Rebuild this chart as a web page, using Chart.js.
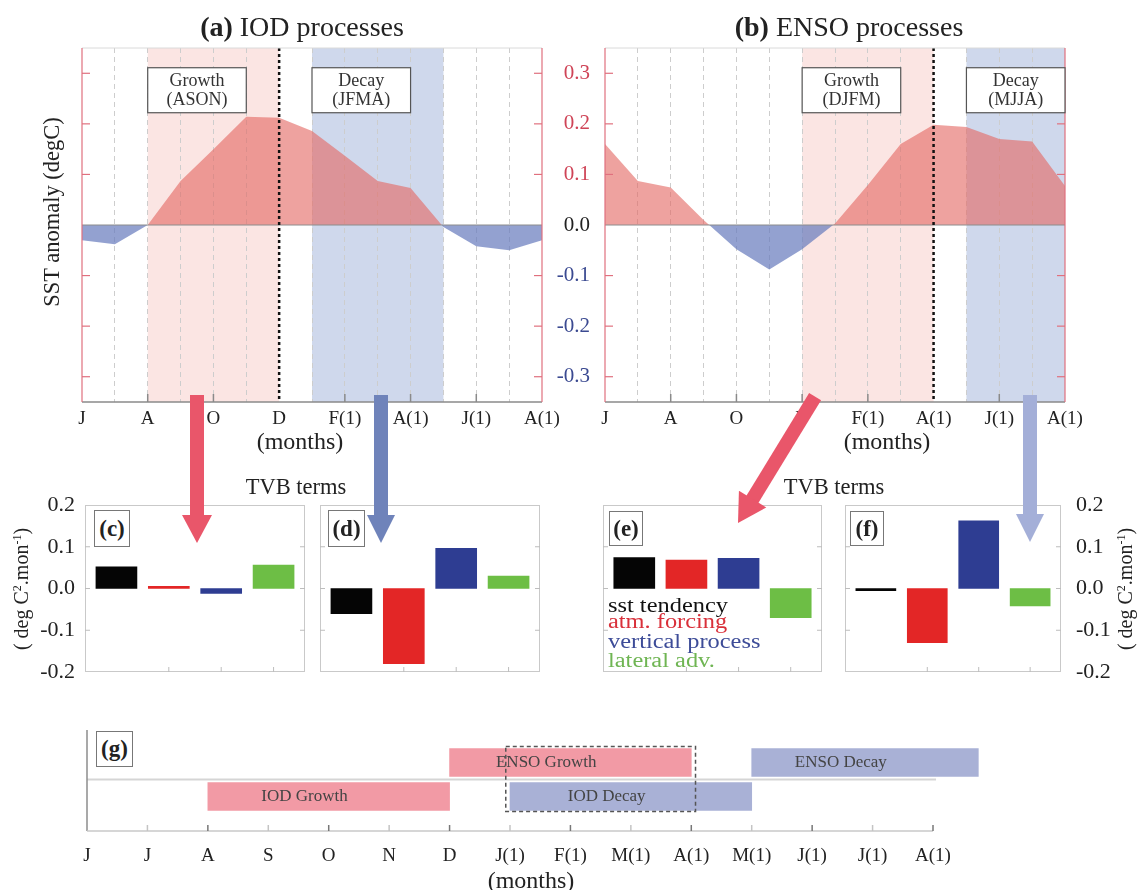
<!DOCTYPE html>
<html>
<head>
<meta charset="utf-8">
<title>IOD and ENSO processes</title>
<script src="https://cdn.jsdelivr.net/npm/chart.js"></script>
<style>
  body { margin: 0; background: #fff; }
  #fig { position: relative; width: 1138px; height: 890px; overflow: hidden; font-family: 'Liberation Serif', 'DejaVu Serif', serif; color: #222; }
  canvas, svg { position: absolute; }
  .t { position: absolute; transform: translate(-50%, -50%); white-space: nowrap; line-height: 1; }
  .rot { transform: translate(-50%, -50%) rotate(-90deg); }
  .tag { position: absolute; border: 1.5px solid #777; background: #fff; font-weight: bold; font-size: 23px; display: flex; align-items: center; justify-content: center; box-sizing: border-box; }
  .leg { position: absolute; left: 608px; font-size: 20px; line-height: 1; transform-origin: 0 50%; transform: translateY(-50%) scaleX(1.22); white-space: nowrap; }
  sup { font-size: 0.6em; }
</style>
</head>
<body>
<div id="fig">
  <canvas id="cA" width="580" height="420" style="left:0;top:40px"></canvas>
  <canvas id="cB" width="560" height="420" style="left:540px;top:40px"></canvas>
  <canvas id="cC" width="315" height="185" style="left:0;top:495px"></canvas>
  <canvas id="cD" width="240" height="185" style="left:310px;top:495px"></canvas>
  <canvas id="cE" width="240" height="185" style="left:593px;top:495px"></canvas>
  <canvas id="cF" width="303" height="185" style="left:835px;top:495px"></canvas>
  <canvas id="cG" width="960" height="170" style="left:40px;top:720px"></canvas>

  <svg width="1138" height="890" style="left:0;top:0">
    <g fill="#e9566a">
      <rect x="190" y="395" width="14" height="121"/>
      <polygon points="182,515 212,515 197,543"/>
    </g>
    <g fill="#6f83ba">
      <rect x="374" y="395" width="14" height="121"/>
      <polygon points="367,515 395,515 381,543"/>
    </g>
    <g fill="#e9566a" transform="translate(738,523) rotate(31.4)">
      <rect x="-7" y="-148" width="14" height="121"/>
      <polygon points="-16,-28 16,-28 0,0"/>
    </g>
    <g fill="#a4afd8">
      <rect x="1023" y="395" width="14" height="120"/>
      <polygon points="1016,514 1044,514 1030,542"/>
    </g>
  </svg>

  <div class="t" style="left:302px;top:27px;font-size:28px"><b>(a)</b> IOD processes</div>
  <div class="t" style="left:849px;top:27px;font-size:28px"><b>(b)</b> ENSO processes</div>
  <div class="t rot" style="left:52px;top:212px;font-size:22.5px">SST anomaly (degC)</div>
  <div class="t" style="left:300px;top:441px;font-size:24px">(months)</div>
  <div class="t" style="left:887px;top:441px;font-size:24px">(months)</div>

  <div class="t" style="left:296px;top:487px;font-size:22.5px">TVB terms</div>
  <div class="t" style="left:834px;top:487px;font-size:22.5px">TVB terms</div>
  <div class="t rot" style="left:21px;top:589px;font-size:20px">( deg C<sup>2</sup>.mon<sup>-1</sup>)</div>
  <div class="t rot" style="left:1125px;top:589px;font-size:20px">( deg C<sup>2</sup>.mon<sup>-1</sup>)</div>
  <div class="tag" style="left:94px;top:510px;width:36px;height:37px">(c)</div>
  <div class="tag" style="left:328px;top:510px;width:37px;height:37px">(d)</div>
  <div class="tag" style="left:609px;top:511px;width:34px;height:35px">(e)</div>
  <div class="tag" style="left:850px;top:511px;width:34px;height:35px">(f)</div>
  <div id="legend"></div>

  <div class="tag" style="left:96px;top:731px;width:37px;height:36px">(g)</div>
  <div class="t" style="left:531px;top:880px;font-size:24px">(months)</div>
</div>

<script>
Chart.defaults.font.family = "'Liberation Serif', 'DejaVu Serif', serif";
Chart.defaults.color = '#222';
Chart.defaults.animation = false;
Chart.defaults.plugins.legend.display = false;
Chart.defaults.plugins.tooltip.enabled = false;

// --- Data ---
const months = ['J', 'J', 'A', 'S', 'O', 'N', 'D', 'J(1)', 'F(1)', 'M(1)', 'A(1)', 'M(1)', 'J(1)', 'J(1)', 'A(1)'];
const sstTickLabels = ['J', '', 'A', '', 'O', '', 'D', '', 'F(1)', '', 'A(1)', '', 'J(1)', '', 'A(1)'];
const sstTicks = [-0.3, -0.2, -0.1, 0, 0.1, 0.2, 0.3];
const iodSST = [-0.03, -0.038, 0.0, 0.087, 0.15, 0.214, 0.212, 0.186, 0.137, 0.087, 0.073, -0.004, -0.042, -0.05, -0.03];
const ensoSST = [0.16, 0.087, 0.074, 0.01, -0.048, -0.088, -0.048, 0.003, 0.079, 0.16, 0.198, 0.194, 0.17, 0.165, 0.077];

// growth / decay windows as month indexes into `months`
const iodPhases = {
    growth: [2, 6], decay: [7, 11], peak: 6,
    boxes: [{ span: [2, 5], text: ['Growth', '(ASON)'] }, { span: [7, 10], text: ['Decay', '(JFMA)'] }]
};
const ensoPhases = {
    growth: [6, 10], decay: [11, 14], peak: 10,
    boxes: [{ span: [6, 9], text: ['Growth', '(DJFM)'] }, { span: [11, 14], text: ['Decay', '(MJJA)'] }]
};

const tvbTerms = ['sst tendency', 'atm. forcing', 'vertical process', 'lateral adv.'];
const tvbColors = ['#050505', '#e32626', '#2e3d92', '#6dbe45'];
const tvbTicks = [-0.2, -0.1, 0, 0.1, 0.2];
const iodGrowthTVB = [0.052, 0.005, -0.012, 0.056];
const iodDecayTVB = [-0.06, -0.18, 0.096, 0.03];
const ensoGrowthTVB = [0.074, 0.068, 0.072, -0.07];
const ensoDecayTVB = [-0.005, -0.13, 0.162, -0.042];

const timelineRows = ['ENSO', 'IOD'];
const growthSpans = [[6, 10], [2, 6]];
const decaySpans = [[11, 14.75], [7, 11]];

// --- Helpers ---
const line = (ctx, x1, y1, x2, y2, color, w) => {
    ctx.strokeStyle = color;
    ctx.lineWidth = w;
    ctx.beginPath();
    ctx.moveTo(x1, y1);
    ctx.lineTo(x2, y2);
    ctx.stroke();
};

// fix an axis box to an exact size, with no extra label padding
const fixSize = (w, h) => s => {
    if (w !== null) s.width = w;
    if (h !== null) s.height = h;
    s.paddingTop = s.paddingBottom = s.paddingLeft = s.paddingRight = 0;
};

// legend inside panel (e)
const legendTops = [605, 621, 641, 660];
const legendColors = ['#111', '#d9303a', '#3d4c98', '#6fb553'];
tvbTerms.forEach((term, i) => {
    const d = document.createElement('div');
    d.className = 'leg';
    d.style.top = legendTops[i] + 'px';
    d.style.color = legendColors[i];
    d.textContent = term;
    document.getElementById('legend').appendChild(d);
});

// --- SST panels (a) and (b) ---
function sstDecor(ph) {
    return {
        id: 'sstDecor',
        beforeDraw(chart) {
            const { ctx, chartArea: a, scales: { x } } = chart;
            ctx.save();
            ctx.fillStyle = '#fbe5e3';
            const g0 = x.getPixelForValue(ph.growth[0]), g1 = x.getPixelForValue(ph.growth[1]);
            ctx.fillRect(g0, a.top, g1 - g0, a.height);
            ctx.fillStyle = '#cfd8ec';
            const d0 = x.getPixelForValue(ph.decay[0]), d1 = x.getPixelForValue(ph.decay[1]);
            ctx.fillRect(d0, a.top, d1 - d0, a.height);
            ctx.restore();
        },
        afterDatasetsDraw(chart) {
            const { ctx, chartArea: a, scales: { x, y } } = chart;
            ctx.save();
            const y0 = y.getPixelForValue(0);
            line(ctx, a.left, y0, a.right, y0, '#8c8c8c', 1);

            // peak month
            ctx.setLineDash([3, 3]);
            const px = x.getPixelForValue(ph.peak);
            line(ctx, px, a.top, px, a.bottom, '#111', 2.5);
            ctx.setLineDash([]);

            // frame
            line(ctx, a.left, a.top, a.right, a.top, '#dadada', 1);
            line(ctx, a.left, a.bottom, a.right, a.bottom, '#8a8a8a', 1.5);
            line(ctx, a.left, a.top, a.left, a.bottom, '#e0707e', 1.2);
            line(ctx, a.right, a.top, a.right, a.bottom, '#e0707e', 1.2);
            sstTicks.forEach(v => {
                if (v === 0) return;
                const py = y.getPixelForValue(v);
                line(ctx, a.left, py, a.left + 8, py, '#e0707e', 1.2);
                line(ctx, a.right - 8, py, a.right, py, '#e0707e', 1.2);
            });
            sstTickLabels.forEach((l, i) => {
                if (!l || i === 0 || i === months.length - 1 || i === ph.peak) return;
                const tx = x.getPixelForValue(i);
                line(ctx, tx, a.bottom, tx, a.bottom - 8, '#8a8a8a', 1.5);
            });

            // phase boxes
            ph.boxes.forEach(b => {
                const bx0 = x.getPixelForValue(b.span[0]), bx1 = x.getPixelForValue(b.span[1]);
                const by0 = y.getPixelForValue(0.311), by1 = y.getPixelForValue(0.222);
                ctx.fillStyle = '#fff';
                ctx.fillRect(bx0, by0, bx1 - bx0, by1 - by0);
                ctx.strokeStyle = '#555';
                ctx.lineWidth = 1.2;
                ctx.strokeRect(bx0, by0, bx1 - bx0, by1 - by0);
                ctx.fillStyle = '#333';
                ctx.font = "18px 'Liberation Serif', serif";
                ctx.textAlign = 'center';
                ctx.textBaseline = 'middle';
                const cx = (bx0 + bx1) / 2, h = by1 - by0;
                ctx.fillText(b.text[0], cx, by0 + h * 0.3);
                ctx.fillText(b.text[1], cx, by0 + h * 0.72);
            });
            ctx.restore();
        }
    };
}

function makeSstChart(id, values, phases, showY, yWidth, padRight) {
    return new Chart(document.getElementById(id), {
        type: 'line',
        data: {
            labels: months,
            datasets: [{
                data: values,
                fill: { target: 'origin', above: 'rgba(228,105,100,0.62)', below: 'rgba(105,125,190,0.72)' },
                borderWidth: 0,
                pointRadius: 0,
                tension: 0
            }]
        },
        options: {
            responsive: false,
            layout: { padding: { top: 8, right: padRight, bottom: 0, left: 0 } },
            scales: {
                x: {
                    grid: {
                        color: c => (c.index === 0 || c.index === months.length - 1 || c.index === phases.peak) ? 'rgba(0,0,0,0)' : '#cdcdcd',
                        drawTicks: false
                    },
                    border: { display: false, dash: [5, 4] },
                    ticks: { autoSkip: false, maxRotation: 0, padding: 6, font: { size: 19 }, color: '#222', callback: (v, i) => sstTickLabels[i] },
                    afterFit: fixSize(null, 58)
                },
                y: {
                    min: -0.35,
                    max: 0.35,
                    grid: { display: false, drawTicks: false },
                    border: { display: false },
                    afterBuildTicks: s => { s.ticks = sstTicks.map(v => ({ value: v })); },
                    ticks: {
                        display: showY,
                        padding: 15,
                        font: { size: 21 },
                        color: c => c.tick.value > 0.001 ? '#cf4457' : (c.tick.value < -0.001 ? '#3b4a91' : '#222'),
                        callback: v => v.toFixed(1)
                    },
                    afterFit: fixSize(yWidth, null)
                }
            }
        },
        plugins: [sstDecor(phases)]
    });
}

makeSstChart('cA', iodSST, iodPhases, false, 82, 38);
makeSstChart('cB', ensoSST, ensoPhases, true, 65, 35);

// --- TVB bar panels (c)-(f) ---
const tvbFrame = {
    id: 'tvbFrame',
    afterDatasetsDraw(chart) {
        const { ctx, chartArea: a, scales: { x, y } } = chart;
        ctx.save();
        ctx.strokeStyle = '#c9c9c9';
        ctx.lineWidth = 1;
        ctx.strokeRect(a.left + 0.5, a.top + 0.5, a.width - 1, a.height - 1);
        tvbTicks.filter(v => Math.abs(v) < 0.15).forEach(v => {
            const py = y.getPixelForValue(v);
            line(ctx, a.left, py, a.left + 5, py, '#bdbdbd', 1);
            line(ctx, a.right - 5, py, a.right, py, '#bdbdbd', 1);
        });
        for (let i = 2; i <= tvbTerms.length; i++) {
            const px = x.getPixelForValue(i);
            line(ctx, px, a.bottom, px, a.bottom - 5, '#bdbdbd', 1);
        }
        ctx.restore();
    }
};

function makeTvbChart(id, values, yOpts, padding, thickness) {
    return new Chart(document.getElementById(id), {
        type: 'bar',
        data: {
            datasets: [{
                data: values.map((v, i) => ({ x: i + 1, y: v })),
                backgroundColor: tvbColors,
                barThickness: thickness
            }]
        },
        options: {
            responsive: false,
            layout: { padding },
            scales: {
                x: {
                    type: 'linear', min: 0.4, max: 4.6, offset: false, display: false,
                    afterBuildTicks: s => { s.ticks = tvbTerms.map((t, i) => ({ value: i + 1 })); }
                },
                y: {
                    min: -0.2,
                    max: 0.2,
                    position: yOpts.position,
                    display: yOpts.show,
                    grid: { display: false, drawTicks: false },
                    border: { display: false },
                    afterBuildTicks: s => { s.ticks = tvbTicks.map(v => ({ value: v })); },
                    ticks: { padding: yOpts.pad, font: { size: 22 }, color: '#222', callback: v => v.toFixed(1) },
                    afterFit: fixSize(yOpts.width, null)
                }
            }
        },
        plugins: [tvbFrame]
    });
}

makeTvbChart('cC', iodGrowthTVB, { show: true, position: 'left', width: 85, pad: 10 }, { top: 10, right: 10, bottom: 8, left: 0 }, 41);
makeTvbChart('cD', iodDecayTVB, { show: false, position: 'left', width: 0, pad: 0 }, { top: 10, right: 10, bottom: 8, left: 10 }, 41);
makeTvbChart('cE', ensoGrowthTVB, { show: false, position: 'left', width: 0, pad: 0 }, { top: 10, right: 11, bottom: 8, left: 10 }, 41);
makeTvbChart('cF', ensoDecayTVB, { show: true, position: 'right', width: 77, pad: 15 }, { top: 10, right: 0, bottom: 8, left: 10 }, 40);

// --- Timeline panel (g) ---
const rowY = timelineRows.map((r, i) => timelineRows.length - 1 - i); // ENSO on top

const timelineDecor = {
    id: 'timelineDecor',
    beforeDatasetsDraw(chart) {
        const { ctx, scales: { x, y } } = chart;
        ctx.save();
        const sy = y.getPixelForValue(0.5);
        line(ctx, x.getPixelForValue(0), sy, x.getPixelForValue(14.05), sy, '#d5d5d5', 2);
        ctx.restore();
    },
    afterDatasetsDraw(chart) {
        const { ctx, chartArea: a, scales: { x, y } } = chart;
        ctx.save();
        line(ctx, a.left, a.top, a.left, a.bottom, '#8c8c8c', 1.5);
        line(ctx, a.left, a.bottom, a.right, a.bottom, '#c8c8c8', 1.5);
        months.forEach((m, i) => {
            if (i === 0) return;
            const px = x.getPixelForValue(i);
            line(ctx, px, a.bottom, px, a.bottom - 6, i % 2 ? '#c4c4c4' : '#777', 1.5);
        });

        // overlap of ENSO growth and IOD decay
        ctx.setLineDash([4, 3]);
        ctx.strokeStyle = '#555';
        ctx.lineWidth = 1.5;
        const bx0 = x.getPixelForValue(6.93), bx1 = x.getPixelForValue(10.07);
        const by0 = y.getPixelForValue(1.47), by1 = y.getPixelForValue(-0.44);
        ctx.strokeRect(bx0, by0, bx1 - bx0, by1 - by0);
        ctx.setLineDash([]);

        ctx.fillStyle = '#444';
        ctx.font = "17px 'Liberation Serif', serif";
        ctx.textAlign = 'center';
        ctx.textBaseline = 'middle';
        timelineRows.forEach((r, i) => {
            const py = y.getPixelForValue(rowY[i]);
            ctx.fillText(r + ' Growth', x.getPixelForValue((growthSpans[i][0] + growthSpans[i][1]) / 2 - 0.4), py);
            ctx.fillText(r + ' Decay', x.getPixelForValue((decaySpans[i][0] + decaySpans[i][1]) / 2 - 0.4), py);
        });
        ctx.restore();
    }
};

new Chart(document.getElementById('cG'), {
    type: 'bar',
    data: {
        datasets: [
            { data: timelineRows.map((r, i) => ({ y: rowY[i], x: growthSpans[i] })), backgroundColor: '#f29aa5' },
            { data: timelineRows.map((r, i) => ({ y: rowY[i], x: decaySpans[i] })), backgroundColor: '#a9b1d6' }
        ]
    },
    options: {
        responsive: false,
        indexAxis: 'y',
        layout: { padding: { top: 10, right: 67, bottom: 0, left: 47 } },
        datasets: { bar: { grouped: false, barThickness: 28, clip: false } },
        scales: {
            x: {
                type: 'linear',
                min: 0,
                max: 14,
                grid: { display: false },
                border: { display: false },
                ticks: { stepSize: 1, autoSkip: false, maxRotation: 0, padding: 6, font: { size: 19 }, color: '#222', callback: v => months[v] ?? '' },
                afterFit: fixSize(null, 59)
            },
            y: { type: 'linear', min: -0.72, max: 1.66, display: false }
        }
    },
    plugins: [timelineDecor]
});
</script>
</body>
</html>
